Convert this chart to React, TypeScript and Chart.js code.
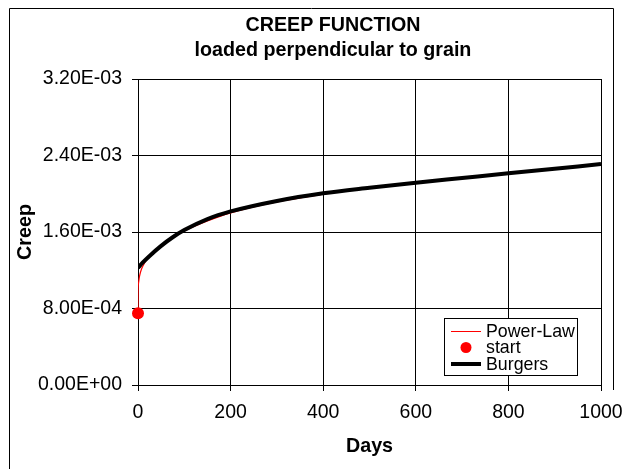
import React, { useEffect, useRef } from 'react';
import { Chart, registerables } from 'chart.js';

Chart.register(...registerables);

const TITLE_LINES = ['CREEP FUNCTION', 'loaded perpendicular to grain'];
const X_TITLE = 'Days';
const Y_TITLE = 'Creep';
const X_TICKS = [0, 200, 400, 600, 800, 1000];
const Y_TICKS = [0, 0.0008, 0.0016, 0.0024, 0.0032];

const POWER_DAYS = [0, 0.2, 1, 3, 6, 10, 20, 35, 50, 75, 100, 150, 200, 300, 400, 500, 600, 700, 800, 900, 1000];
const POWER_VALUES = [
  0.00075, 0.00098, 0.00106, 0.00113, 0.00119, 0.00124, 0.00132, 0.0014, 0.00146, 0.00154, 0.00161,
  0.001715, 0.0018, 0.001915, 0.001995, 0.00206, 0.002115, 0.002165, 0.002212, 0.002258, 0.002305,
];

const START_DAYS = [0];
const START_VALUES = [0.00075];

const BURGERS_DAYS = [0, 10, 25, 50, 75, 100, 150, 200, 300, 400, 500, 600, 700, 800, 900, 1000];
const BURGERS_VALUES = [
  0.001225, 0.00128, 0.00135, 0.001455, 0.001545, 0.00162, 0.001735, 0.001815, 0.001925, 0.002005,
  0.002063, 0.002116, 0.002165, 0.002214, 0.002262, 0.00231,
];

const LEGEND_LABELS = ['Power-Law', 'start', 'Burgers'];

const FONT = '"Liberation Sans", Arial, sans-serif';

function fmtExp(v: number): string {
  const [m, e] = v.toExponential(2).split('e');
  const sign = e[0] === '-' ? '-' : '+';
  const digits = e.replace(/^[+-]/, '').padStart(2, '0');
  return m + 'E' + sign + digits;
}

const decorPlugin = {
  id: 'decor',
  afterDraw(chart: any) {
    const ctx = chart.ctx as CanvasRenderingContext2D;
    ctx.save();
    // outer frame
    ctx.strokeStyle = '#000';
    ctx.lineWidth = 1;
    ctx.beginPath();
    ctx.moveTo(9.5, 469);
    ctx.lineTo(9.5, 8.5);
    ctx.lineTo(613.5, 8.5);
    ctx.lineTo(613.5, 390);
    ctx.stroke();

    // title
    ctx.fillStyle = '#000';
    ctx.textAlign = 'center';
    ctx.textBaseline = 'alphabetic';
    ctx.font = 'bold 19.7px ' + FONT;
    ctx.fillText(TITLE_LINES[0], 333, 31);
    ctx.fillText(TITLE_LINES[1], 333, 56);

    // legend
    const bx = 444.5, by = 318.5, bw = 133, bh = 57;
    ctx.fillStyle = '#fff';
    ctx.fillRect(bx, by, bw, bh);
    ctx.strokeStyle = '#000';
    ctx.lineWidth = 1;
    ctx.strokeRect(bx, by, bw, bh);

    const rows = [331, 347.5, 364];
    const ds = chart.data.datasets;
    ctx.strokeStyle = ds[0].borderColor;
    ctx.lineWidth = 1;
    ctx.beginPath();
    ctx.moveTo(451, rows[0] + 0.5);
    ctx.lineTo(481, rows[0] + 0.5);
    ctx.stroke();
    ctx.fillStyle = ds[1].backgroundColor;
    ctx.beginPath();
    ctx.arc(466, rows[1], 5.5, 0, Math.PI * 2);
    ctx.fill();
    ctx.strokeStyle = ds[2].borderColor;
    ctx.lineWidth = 4;
    ctx.beginPath();
    ctx.moveTo(451, rows[2]);
    ctx.lineTo(481, rows[2]);
    ctx.stroke();

    ctx.fillStyle = '#000';
    ctx.textAlign = 'left';
    ctx.textBaseline = 'middle';
    ctx.font = '17.8px ' + FONT;
    LEGEND_LABELS.forEach((t, i) => ctx.fillText(t, 486, rows[i] + 1));
    ctx.restore();
  },
};

export default function App() {
  const ref = useRef<HTMLCanvasElement | null>(null);

  useEffect(() => {
    if (!ref.current) return;
    const chart = new Chart(ref.current, {
      type: 'line',
      data: {
        datasets: [
          {
            label: LEGEND_LABELS[0],
            data: POWER_DAYS.map((d, i) => ({ x: d, y: POWER_VALUES[i] })),
            borderColor: '#ff0000',
            backgroundColor: '#ff0000',
            borderWidth: 1.2,
            pointRadius: 0,
            cubicInterpolationMode: 'monotone',
            order: 3,
          },
          {
            label: LEGEND_LABELS[1],
            type: 'scatter',
            data: START_DAYS.map((d, i) => ({ x: d, y: START_VALUES[i] })),
            borderColor: '#ff0000',
            backgroundColor: '#ff0000',
            pointRadius: 6,
            pointBorderWidth: 0,
            showLine: false,
            clip: false,
            order: 2,
          } as any,
          {
            label: LEGEND_LABELS[2],
            data: BURGERS_DAYS.map((d, i) => ({ x: d, y: BURGERS_VALUES[i] })),
            borderColor: '#000000',
            backgroundColor: '#000000',
            borderWidth: 4,
            pointRadius: 0,
            cubicInterpolationMode: 'monotone',
            order: 1,
          },
        ],
      },
      options: {
        animation: false,
        responsive: false,
        devicePixelRatio: 1,
        layout: { padding: { left: 0, right: 21, top: 79, bottom: 0 } },
        plugins: {
          legend: { display: false },
          title: { display: false },
          tooltip: { enabled: false },
        },
        scales: {
          x: {
            type: 'linear',
            min: 0,
            max: 1000,
            afterBuildTicks: (s: any) => {
              s.ticks = X_TICKS.map((v) => ({ value: v }));
            },
            afterFit: (s: any) => {
              s.height = 84;
              s.paddingLeft = 0;
              s.paddingRight = 0;
            },
            grid: { color: '#000', lineWidth: 1, tickLength: 6, drawTicks: true },
            border: { color: '#000', width: 1 },
            ticks: {
              color: '#000',
              font: { family: FONT, size: 19.5 },
              padding: 10,
              maxRotation: 0,
              callback: (v: any) => String(v),
            },
            title: {
              display: true,
              text: X_TITLE,
              color: '#000',
              font: { family: FONT, size: 19.7, weight: 'bold' },
              padding: { top: 0, bottom: 11 },
            },
          },
          y: {
            type: 'linear',
            min: 0,
            max: 0.0032,
            afterBuildTicks: (s: any) => {
              s.ticks = Y_TICKS.map((v) => ({ value: v }));
            },
            afterFit: (s: any) => {
              s.width = 138;
              s.paddingTop = 0;
              s.paddingBottom = 0;
            },
            grid: { color: '#000', lineWidth: 1, tickLength: 6, drawTicks: true },
            border: { color: '#000', width: 1 },
            ticks: {
              color: '#000',
              font: { family: FONT, size: 19.5 },
              padding: 10,
              callback: (v: any) => fmtExp(Number(v)),
            },
            title: {
              display: true,
              text: Y_TITLE,
              color: '#000',
              font: { family: FONT, size: 19.7, weight: 'bold' },
              padding: { top: 14, bottom: 0 },
            },
          },
        },
      },
      plugins: [decorPlugin],
    } as any);
    return () => chart.destroy();
  }, []);

  return (
    <div style={{ position: 'fixed', left: 0, top: 0, width: 622, height: 469, background: '#fff' }}>
      <canvas ref={ref} width={622} height={469} style={{ display: 'block' }} />
    </div>
  );
}
